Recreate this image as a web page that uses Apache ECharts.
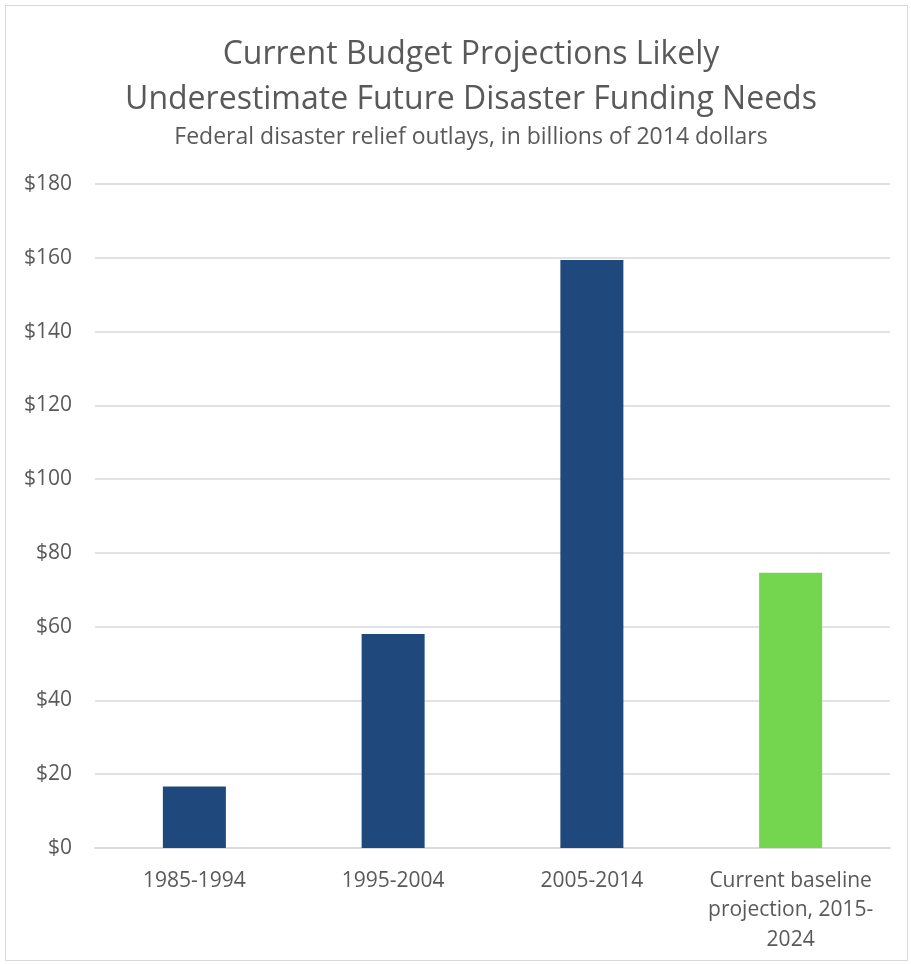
<!DOCTYPE html>
<html><head><meta charset="utf-8">
<script src="https://cdn.jsdelivr.net/npm/echarts@6/dist/echarts.min.js"></script>
<style>
html,body{margin:0;padding:0;background:#fff;}
#frame{position:absolute;left:5px;top:5px;width:903px;height:956px;border:1px solid #d9d9d9;box-sizing:border-box;}
#c{position:absolute;left:0;top:0;width:911px;height:964px;}
</style></head>
<body><div id="frame"></div><div id="c"></div>
<script>
var categories = ['1985-1994', '1995-2004', '2005-2014', 'Current baseline\nprojection, 2015-\n2024'];
var values = [16.7, 58.0, 159.4, 74.6];
var barColors = ['#1F497D', '#1F497D', '#1F497D', '#74D54E'];
var yMin = 0, yMax = 180, yStep = 20;

var chart = echarts.init(document.getElementById('c'), null, {renderer: 'canvas'});
chart.setOption({
  animation: false,
  title: [
    {text: 'Current Budget Projections Likely\nUnderestimate Future Disaster Funding Needs', left: 466, top: 27, textAlign: 'center',
     textStyle: {fontFamily: 'Open Sans', fontWeight: 'normal', fontSize: 32, color: '#595959', lineHeight: 45}},
    {text: 'Federal disaster relief outlays, in billions of 2014 dollars', left: 466, top: 121, textAlign: 'center',
     textStyle: {fontFamily: 'Open Sans', fontWeight: 'normal', fontSize: 23, color: '#595959'}}
  ],
  grid: {left: 95, right: 21, top: 184, bottom: 116, containLabel: false},
  xAxis: {
    type: 'category', data: categories,
    axisLine: {show: true, lineStyle: {color: '#d9d9d9', width: 1.5}},
    axisTick: {show: false},
    axisLabel: {color: '#595959', fontFamily: 'Open Sans', fontSize: 21, margin: 18, lineHeight: 29.5, interval: 0}
  },
  yAxis: {
    type: 'value', min: yMin, max: yMax, interval: yStep,
    axisLine: {show: false}, axisTick: {show: false},
    splitLine: {lineStyle: {color: '#d9d9d9', width: 1.5}},
    axisLabel: {color: '#595959', fontFamily: 'Open Sans', fontSize: 21, margin: 23,
      formatter: function(v){ return '$' + v; }}
  },
  series: [{
    type: 'bar', barWidth: '31.7%',
    data: values.map(function(v, i){ return {value: v, itemStyle: {color: barColors[i]}}; })
  }]
});
</script></body></html>
